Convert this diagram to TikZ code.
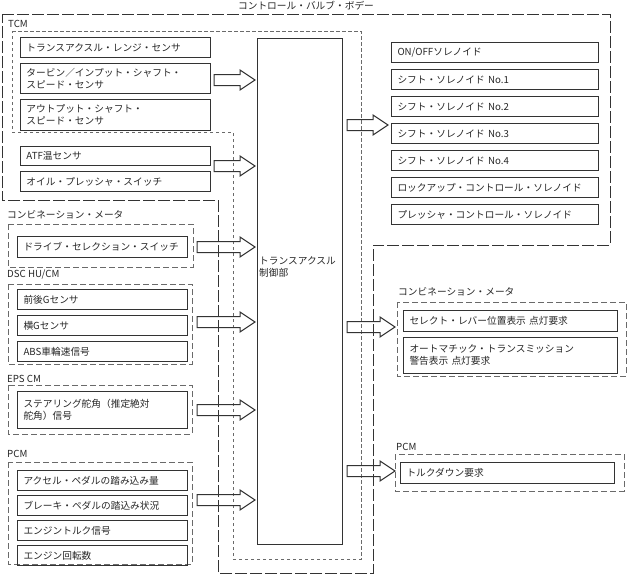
\documentclass[tikz,border=0pt]{standalone}
\usepackage{fontspec}
\setmainfont{Noto Sans CJK JP}
\usetikzlibrary{positioning}

\definecolor{lineGray}{HTML}{333333}
\definecolor{dashGray}{HTML}{6A6A6A}

% hollow block arrow: #1 = tip coordinate, #2 = total length
\newcommand{\hollowArrow}[2]{%
    \draw[arrowLine] (#1) -- ++(-15,-10) -- ++(0,4.5) -- ++({15-#2},0) -- ++(0,11) -- ++({#2-15},0) -- ++(0,4.5) -- cycle;}

\begin{document}
\begin{tikzpicture}[
        x=1pt, y=-1pt,
        font=\fontsize{9.7}{12}\selectfont,
        every node/.style={text=black!85},
        box/.style={rectangle, draw=lineGray, line width=1pt, anchor=north west, align=left, inner xsep=6pt, inner ysep=0pt, minimum height=20pt},
        tcmBox/.style={box, text width=178pt},
        inBox/.style={box, text width=158pt},
        solBox/.style={box, text width=195pt},
        outBox/.style={box, text width=202pt},
        grpFrame/.style={draw=dashGray, line width=0.9pt, dash pattern=on 6pt off 3pt},
        tcmFrame/.style={draw=dashGray, line width=0.9pt, dash pattern=on 3.5pt off 2.5pt},
        bodyFrame/.style={draw=lineGray, line width=0.9pt, dash pattern=on 12pt off 3pt},
        grpLabel/.style={anchor=west, inner sep=0pt},
        arrowLine/.style={draw=lineGray, line width=1pt, line join=miter}
    ]
        \useasboundingbox (0,0) rectangle (627,574);

        % Control valve body and TCM outlines
        \node (bodyLabel) at (306,6) {コントロール・バルブ・ボデー};
        \draw[bodyFrame] (2,14) -- (610,14) -- (610,245) -- (373,245) -- (373,573) -- (218,573) -- (218,200) -- (2,200) -- cycle;
        \node[grpLabel] (tcmLabel) at (8,24) {TCM};
        \draw[tcmFrame] (12,31) -- (361,31) -- (361,559) -- (233,559) -- (233,132) -- (12,132) -- cycle;

        % Control unit
        \node[draw=lineGray, line width=1pt, anchor=north west, minimum width=85pt, minimum height=506pt, inner sep=0pt] (ecu) at (257,38) {};
        \node[anchor=west, align=left, inner sep=0pt] (ecuText) at (259,267) {トランスアクスル\\制御部};

        % TCM inputs
        \node[tcmBox] (range) at (20,37) {トランスアクスル・レンジ・センサ};
        \node[tcmBox, minimum height=30pt, below=5pt of range] (turbine) {タービン／インプット・シャフト・\\スピード・センサ};
        \node[tcmBox, minimum height=31pt, below=5pt of turbine] (output) {アウトプット・シャフト・\\スピード・センサ};
        \node[tcmBox, minimum height=19pt] (atf) at (20,146) {ATF温センサ};
        \node[tcmBox, below=5pt of atf] (oil) {オイル・プレッシャ・スイッチ};

        % Combination meter (input)
        \node[grpLabel] (meterLabel) at (7,215) {コンビネーション・メータ};
        \draw[grpFrame] (8,224) rectangle (193,267);
        \node[inBox, minimum height=21pt] (select) at (17,236) {ドライブ・セレクション・スイッチ};

        % DSC HU/CM
        \node[grpLabel] (dscLabel) at (7,275) {DSC HU/CM};
        \draw[grpFrame] (8,284) rectangle (192,364);
        \node[inBox] (gLong) at (17,289) {前後Gセンサ};
        \node[inBox, below=5pt of gLong] (gLat) {横Gセンサ};
        \node[inBox, below=5pt of gLat] (abs) {ABS車輪速信号};

        % EPS CM
        \node[grpLabel] (epsLabel) at (7,379) {EPS CM};
        \draw[grpFrame] (8,385) rectangle (192,434);
        \node[inBox, minimum height=37pt] (steer) at (17,391) {ステアリング舵角（推定絶対\\舵角）信号};

        % PCM (input)
        \node[grpLabel] (pcmLabel) at (7,454) {PCM};
        \draw[grpFrame] (8,462) rectangle (192,564);
        \node[inBox] (accel) at (17,470) {アクセル・ペダルの踏み込み量};
        \node[inBox, below=4pt of accel] (brake) {ブレーキ・ペダルの踏込み状況};
        \node[inBox, below=4pt of brake] (torque) {エンジントルク信号};
        \node[inBox, below=4pt of torque] (speed) {エンジン回転数};

        % Solenoids
        \node[solBox] (solOnOff) at (391,42) {ON/OFFソレノイド};
        \node[solBox, below=6pt of solOnOff] (solA) {シフト・ソレノイド No.1};
        \node[solBox, below=6pt of solA] (solB) {シフト・ソレノイド No.2};
        \node[solBox, below=6pt of solB] (solC) {シフト・ソレノイド No.3};
        \node[solBox, below=6pt of solC] (solD) {シフト・ソレノイド No.4};
        \node[solBox, below=6pt of solD] (solLock) {ロックアップ・コントロール・ソレノイド};
        \node[solBox, below=6pt of solLock] (solPres) {プレッシャ・コントロール・ソレノイド};

        % Combination meter (output)
        \node[grpLabel] (meterOutLabel) at (398,292) {コンビネーション・メータ};
        \draw[grpFrame] (397,302) rectangle (626,376);
        \node[outBox, minimum height=21pt] (lever) at (403,310) {セレクト・レバー位置表示 点灯要求};
        \node[outBox, minimum height=36pt, below=5pt of lever] (warn) {オートマチック・トランスミッション\\警告表示 点灯要求};

        % PCM (output)
        \node[grpLabel] (pcmOutLabel) at (396,447) {PCM};
        \draw[grpFrame] (395,454) rectangle (624,491);
        \node[outBox, minimum height=21pt] (torqueDown) at (400,462) {トルクダウン要求};

        % Block arrow tips
        \coordinate (tipTurbine) at (255,80);
        \coordinate (tipAtf) at (255,166);
        \coordinate (tipSelect) at (255,247);
        \coordinate (tipDsc) at (255,322);
        \coordinate (tipEps) at (255,410);
        \coordinate (tipPcm) at (255,500);
        \coordinate (tipSol) at (388,125);
        \coordinate (tipMeter) at (395,327);
        \coordinate (tipTorque) at (395,471);

        % Block arrows
        \hollowArrow{tipTurbine}{41}
        \hollowArrow{tipAtf}{41}
        \hollowArrow{tipSelect}{58}
        \hollowArrow{tipDsc}{58}
        \hollowArrow{tipEps}{58}
        \hollowArrow{tipPcm}{58}
        \hollowArrow{tipSol}{41}
        \hollowArrow{tipMeter}{48}
        \hollowArrow{tipTorque}{48}
    \end{tikzpicture}
\end{document}
